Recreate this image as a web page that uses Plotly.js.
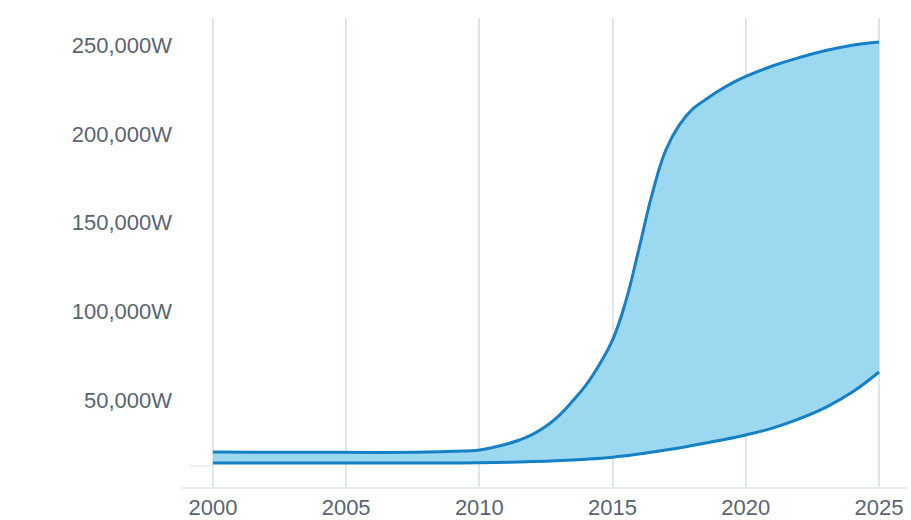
<!DOCTYPE html>
<html>
<head>
<meta charset="utf-8">
<script src="https://cdn.plot.ly/plotly-3.0.1.min.js"></script>
<style>html,body{margin:0;padding:0;background:#fff;}#chart{width:911px;height:520px;}</style>
</head>
<body>
<div id="chart"></div>
<script>
const years = [2000, 2003, 2006, 2008, 2009, 2010, 2010.5, 2011, 2011.5, 2012, 2012.5, 2013, 2013.5, 2014, 2014.5, 2015, 2015.5, 2016, 2016.5, 2017, 2017.5, 2018, 2018.5, 2019, 2019.5, 2020, 2021, 2022, 2023, 2024, 2025];
const upperValues = [20800, 20700, 20600, 20800, 21200, 22000, 23400, 25200, 27600, 30800, 35300, 41500, 49500, 58500, 70000, 84000, 106000, 136000, 167000, 191000, 205000, 214000, 219500, 224500, 228800, 232500, 238300, 243000, 247000, 250000, 251800];
const lowerYears = [2000, 2005, 2010, 2012, 2014, 2015, 2016, 2017, 2018, 2019, 2020, 2021, 2022, 2023, 2024, 2025];
const lowerValues = [14600, 14600, 14700, 15400, 16800, 17900, 19700, 21900, 24500, 27300, 30400, 34300, 39500, 46000, 54600, 65900];
const xTicks = [2000, 2005, 2010, 2015, 2020, 2025];
const yTicks = [50000, 100000, 150000, 200000, 250000];
const yTickLabels = ['50,000W', '100,000W', '150,000W', '200,000W', '250,000W'];

const lineColor = '#1680c6';
const fillColor = '#9dd8f1';

const traces = [
  {x: lowerYears, y: lowerValues, type: 'scatter', mode: 'lines',
   line: {color: lineColor, width: 3, shape: 'spline', smoothing: 1.2}, hoverinfo: 'skip'},
  {x: years, y: upperValues, type: 'scatter', mode: 'lines', fill: 'tonexty', fillcolor: fillColor,
   line: {color: lineColor, width: 3, shape: 'spline', smoothing: 1.3}, hoverinfo: 'skip'}
];

const layout = {
  width: 911, height: 520,
  margin: {l: 182, r: 4, t: 18, b: 33},
  showlegend: false,
  paper_bgcolor: '#fff', plot_bgcolor: '#fff',
  font: {family: 'Liberation Sans, Arial, sans-serif', color: '#5a6470'},
  xaxis: {
    range: [1998.84, 2026.05], tickvals: xTicks, ticktext: xTicks.map(String),
    showgrid: true, gridcolor: '#dde8ec', gridwidth: 2, zeroline: false,
    showline: true, linecolor: '#e3ebee', linewidth: 2,
    ticks: '', tickfont: {size: 22, color: '#5a6470'}, fixedrange: true
  },
  yaxis: {
    range: [1100, 265350], tickvals: yTicks, ticktext: yTickLabels,
    showgrid: false, zeroline: false, showline: false,
    ticks: '', ticklabelstandoff: 9, tickfont: {size: 22, color: '#5a6470'}, fixedrange: true
  },
  shapes: [
    {type: 'line', xref: 'x', yref: 'y', x0: 1999.14, x1: 2000, y0: 13000, y1: 13000,
     line: {color: '#e6ecee', width: 1.5}, layer: 'below'}
  ]
};

Plotly.newPlot('chart', traces, layout, {displayModeBar: false, staticPlot: true});
</script>
</body>
</html>
